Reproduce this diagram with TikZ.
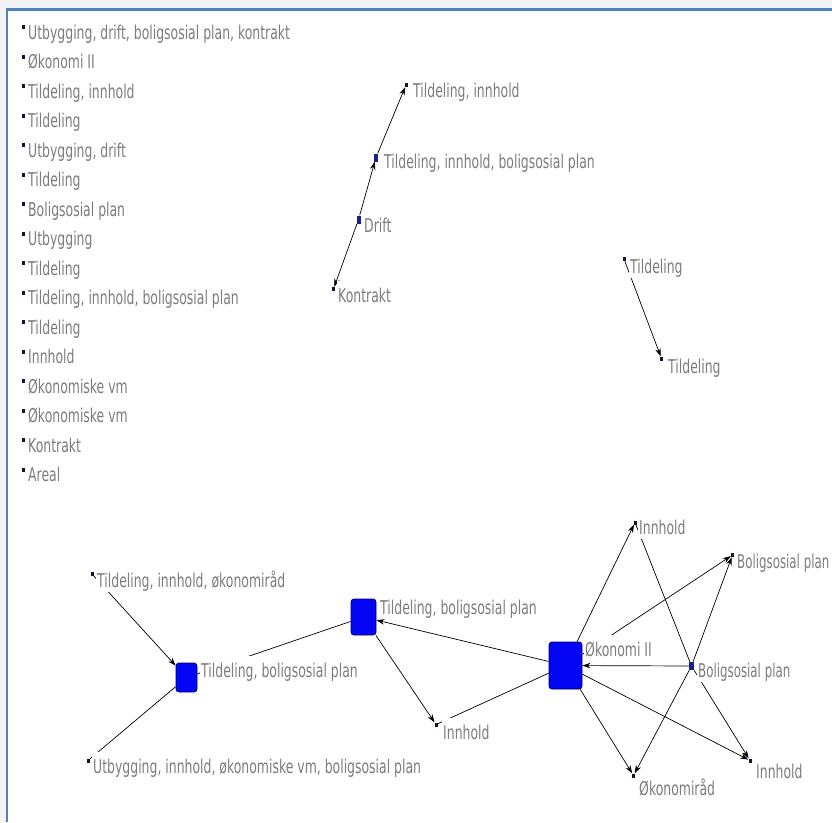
\documentclass[tikz,border=0pt]{standalone}
\usepackage{fontspec}
\setmainfont{DejaVu Sans}[FakeStretch=0.655]
\usetikzlibrary{arrows.meta}
\definecolor{txtgray}{RGB}{125,125,125}
\definecolor{framec}{RGB}{79,129,189}
\definecolor{mkdark}{RGB}{20,20,50}
\definecolor{mknavy}{RGB}{30,30,140}
\definecolor{sqblue}{RGB}{5,5,245}
\definecolor{sqedge}{RGB}{0,0,110}
\begin{document}
\begin{tikzpicture}[x=1pt,y=-1pt,
  lbl/.style={anchor=base west,fill=white,text=txtgray,font=\fontsize{19pt}{21pt}\selectfont,inner xsep=1pt,inner ysep=3pt,text height=18pt,text depth=2pt},
  mk/.style={rectangle,fill=mkdark,inner sep=0pt,minimum width=3pt,minimum height=4pt},
  mkb/.style={rectangle,fill=mknavy,inner sep=0pt,minimum width=4pt,minimum height=8pt},
  sq/.style={rectangle,rounded corners=3pt,fill=sqblue,draw=sqedge,line width=0.8pt,inner sep=0pt},
  ln/.style={draw=black,line width=0.7pt},
  ar/.style={ln,-{Stealth[length=8pt,width=5.5pt]}},
]
\useasboundingbox (0,0) rectangle (832,822);
\fill[black!5] (0,0) rectangle (832,8);
\fill[black!5] (0,0) rectangle (6,822);
\draw[framec,line width=2.5pt] (7,822) -- (7,9.5) -- (832,9.5);

% ---------- isolated list ----------
\foreach \t [count=\i from 0] in {{Utbygging, drift, boligsosial plan, kontrakt},{Økonomi II},{Tildeling, innhold},{Tildeling},{Utbygging, drift},{Tildeling},{Boligsosial plan},{Utbygging},{Tildeling},{Tildeling, innhold, boligsosial plan},{Tildeling},{Innhold},{Økonomiske vm},{Økonomiske vm},{Kontrakt},{Areal}}{
  \node[mk] (m\i) at (23.5,{27+29.5*\i}) {};
  \node[lbl] (t\i) at (27,{39+29.5*\i}) {\t};
}

% ---------- network 1 ----------
\node[mk]  (n1a) at (406,85) {};
\node[mkb] (n1b) at (376,157.5) {};
\node[mkb] (n1c) at (358.5,219.5) {};
\node[mk]  (n1d) at (333.5,289) {};
\draw[ar] (n1c) -- (n1d);
\draw[ar] (n1c) -- (n1b);
\draw[ar] (n1b) -- (n1a);
\node[lbl] (l1a) at (412,97) {Tildeling, innhold};
\node[lbl] (l1b) at (383,168) {Tildeling, innhold, boligsosial plan};
\node[lbl] (l1c) at (363,232) {Drift};
\node[lbl] (l1d) at (337,302) {Kontrakt};

% ---------- network 2 ----------
\node[mk] (n2a) at (624,259) {};
\node[mk] (n2b) at (661.5,358.5) {};
\draw[ar] (n2a) -- (n2b);
\node[lbl] (l2a) at (629,273) {Tildeling};
\node[lbl] (l2b) at (667,373) {Tildeling};

% ---------- network 3 ----------
\node[mk] (A) at (92,574) {};
\node[mk] (B) at (88,760.5) {};
\node[sq,minimum width=21pt,minimum height=29pt] (C) at (186.5,677.5) {};
\node[sq,minimum width=25pt,minimum height=36pt] (D) at (363.5,617) {};
\node[mk] (E) at (436,724.5) {};
\node[sq,minimum width=33pt,minimum height=47pt] (F) at (565.5,665.5) {};
\node[mk] (G) at (635,522.5) {};
\node[mk] (H) at (732.5,555) {};
\node[mkb,minimum width=5pt] (I) at (691.5,666) {};
\node[mk] (J) at (750,760.5) {};
\node[mk] (K) at (633.5,775.5) {};

\draw[ar] (A) -- (C);
\draw[ln] (B) -- (C);
\draw[ln] (C) -- (D);
\draw[ar] (F) -- (D);
\draw[ar] (D) -- (E);
\draw[ln] (E) -- (F);
\draw[ar] (F) -- (G);
\draw[ar] (F) -- (H);
\draw[ar] (I) -- (F);
\draw[ar] (F) -- (J);
\draw[ar] (F) -- (K);
\draw[ar] (I) -- (H);
\draw[ar] (I) -- (K);
\draw[ar] (I) -- (J);
\draw[ln] (G) -- (I);

\node[lbl] (lA) at (96,587) {Tildeling, innhold, økonomiråd};
\node[lbl] (lB) at (92,773) {Utbygging, innhold, økonomiske vm, boligsosial plan};
\node[lbl] (lC) at (200,677) {Tildeling, boligsosial plan};
\node[lbl] (lD) at (379,614) {Tildeling, boligsosial plan};
\node[lbl] (lE) at (442,739) {Innhold};
\node[lbl] (lF) at (584,656) {Økonomi II};
\node[lbl] (lG) at (638,534) {Innhold};
\node[lbl] (lH) at (736,568) {\scalebox{0.95}[1]{Boligsosial plan}};
\node[lbl] (lI) at (697,677) {\scalebox{0.95}[1]{Boligsosial plan}};
\node[lbl] (lJ) at (755,778) {Innhold};
\node[lbl] (lK) at (638,795) {Økonomiråd};
\end{tikzpicture}
\end{document}
